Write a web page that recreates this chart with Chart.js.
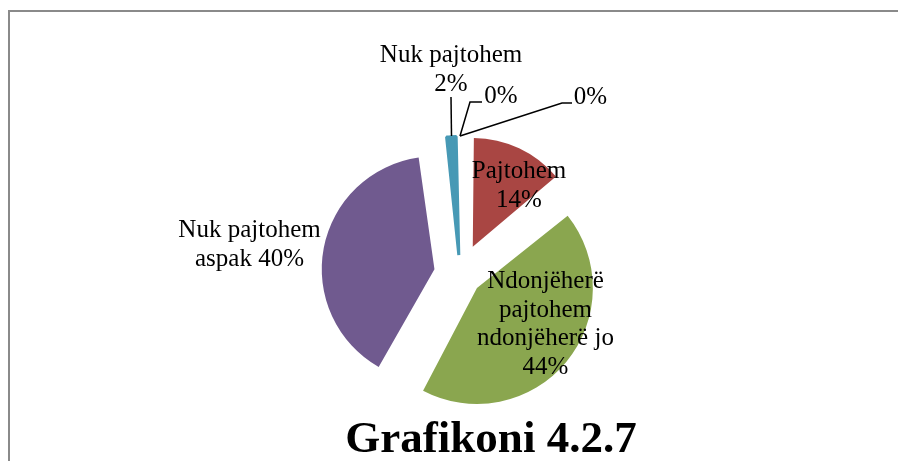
<!DOCTYPE html>
<html>
<head>
<meta charset="utf-8">
<title>Grafikoni 4.2.7</title>
<script src="https://cdn.jsdelivr.net/npm/chart.js@4.4.1/dist/chart.umd.min.js"></script>
<style>
  html, body { margin: 0; padding: 0; background: #fff; }
  #wrap { position: relative; width: 898px; height: 461px; }
</style>
</head>
<body>
<div id="wrap"><canvas id="grafikoni"></canvas></div>
<script>
// data (percent of answers)
var categories = ['', 'Pajtohem', 'Ndonjëherë pajtohem ndonjëherë jo', 'Nuk pajtohem aspak', 'Nuk pajtohem', ''];
var percentValues = [0, 14, 44, 40, 2, 0];
var sliceColors = ['#4F81BD', '#A94643', '#8AA64F', '#705A8F', '#4799B5', '#E88B3D'];
var chartTitle = 'Grafikoni 4.2.7';

// how the category text wraps in the data labels
var labelPieces = [[], ['Pajtohem'], ['Ndonjëherë', 'pajtohem', 'ndonjëherë jo'], ['Nuk pajtohem', 'aspak'], ['Nuk pajtohem'], []];
var valueOnSameLine = [false, false, false, true, false, false];

// label placement, relative to the pie centre
var labelSpots = [
    {x: 41, y: -171, leader: [[0, -138], [10, -172], [22, -172]]},
    {x: 59, y: -96},
    {x: 85.5, y: 14},
    {x: -210.5, y: -37},
    {x: -9, y: -212, leader: [[-8.5, -138], [-9, -177]]},
    {x: 130.5, y: -170, leader: [[0, -138], [102, -171], [112, -171]]}
];
var explode = [0, 120, 88, 104, 76, 0];

var serif = '"Liberation Serif", "Times New Roman", serif';

function labelText(i) {
    var lines = labelPieces[i].slice();
    var pct = percentValues[i] + '%';
    if (valueOnSameLine[i] && lines.length) {
        lines[lines.length - 1] += ' ' + pct;
    } else {
        lines.push(pct);
    }
    return lines;
}

var pieLabels = {
    id: 'pieLabels',
    beforeDraw: function(chart) {
        var ctx = chart.ctx;
        ctx.save();
        ctx.strokeStyle = '#8a8a8a';
        ctx.lineWidth = 2;
        ctx.strokeRect(9, 11, chart.width + 20, chart.height + 20);
        ctx.restore();
    },
    afterDatasetsDraw: function(chart) {
        var ctx = chart.ctx;
        var arc = chart.getDatasetMeta(0).data[0];
        var cx = arc.x, cy = arc.y;
        ctx.save();
        ctx.fillStyle = '#000';
        ctx.strokeStyle = '#000';
        ctx.lineWidth = 1.5;
        ctx.font = '25px ' + serif;
        ctx.textAlign = 'center';
        ctx.textBaseline = 'alphabetic';
        labelSpots.forEach(function(spot, i) {
            if (spot.leader) {
                ctx.beginPath();
                spot.leader.forEach(function(p, k) {
                    if (k === 0) ctx.moveTo(cx + p[0], cy + p[1]);
                    else ctx.lineTo(cx + p[0], cy + p[1]);
                });
                ctx.stroke();
            }
            labelText(i).forEach(function(line, k) {
                ctx.fillText(line, cx + spot.x, cy + spot.y + k * 28.5);
            });
        });
        ctx.font = 'bold 45px ' + serif;
        ctx.fillText(chartTitle, cx + 31, cy + 178);
        ctx.restore();
    }
};

var chart = new Chart(document.getElementById('grafikoni'), {
    type: 'pie',
    data: {
        labels: categories,
        datasets: [{
            data: percentValues,
            backgroundColor: sliceColors,
            borderColor: sliceColors,
            borderWidth: [0, 0, 0, 0, 3, 0],
            offset: explode,
            hoverOffset: 0
        }]
    },
    options: {
        responsive: true,
        maintainAspectRatio: false,
        animation: false,
        events: [],
        radius: 102,
        layout: {
            padding: {left: 40, right: 18, top: 100, bottom: 13}
        },
        plugins: {
            legend: {display: false},
            tooltip: {enabled: false},
            title: {display: false}
        }
    },
    plugins: [pieLabels]
});
</script>
</body>
</html>
